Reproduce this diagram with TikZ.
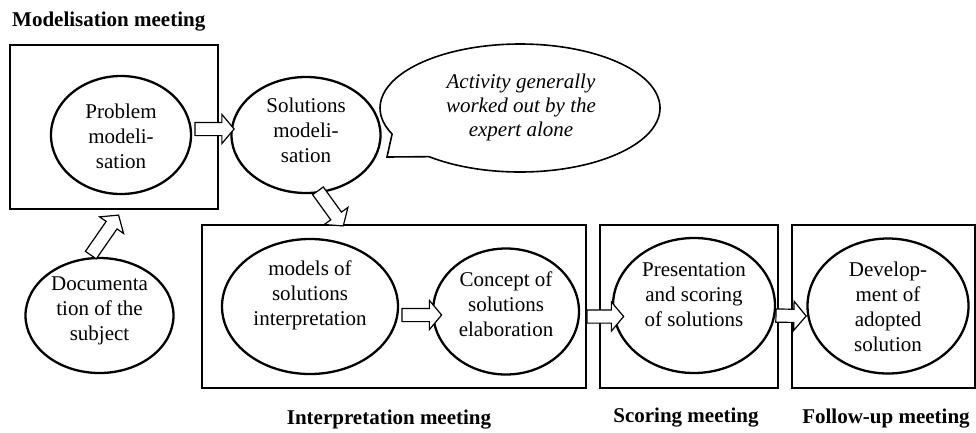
\documentclass[tikz,border=0pt]{standalone}
\usepackage{fontspec}
\setmainfont{Liberation Serif}
\usetikzlibrary{shapes.geometric,shapes.arrows,calc}
\newcommand{\blkarrow}[3]{%
  \path let \p1=#2, \p2=#3, \n1={atan2(\y2-\y1,\x2-\x1)}, \n2={veclen(\x2-\x1,\y2-\y1)} in
    node[blockarrow, minimum height=\n2, rotate=\n1] (#1) at ($(\p1)!.5!(\p2)$) {};}
\begin{document}
\begin{tikzpicture}[x=1pt,y=-1pt,
  meetbox/.style={draw, line width=2.7pt, rectangle, inner sep=0pt},
  bubbleshape/.style={draw, line width=1.6pt, fill=white},
  stage/.style={draw, ellipse, line width=2.3pt, inner sep=0pt},
  txt/.style={align=center, inner sep=0pt, font=\fontsize{21}{25}\selectfont},
  title/.style={inner sep=0pt, font=\fontsize{21}{25}\selectfont\bfseries},
  blockarrow/.style={single arrow, draw, fill=white, line width=1.2pt,
    inner xsep=0pt, inner ysep=6pt, text height=0pt, text depth=0pt,
    single arrow head extend=8pt, single arrow tip angle=100,
    single arrow head indent=0pt}]
\useasboundingbox (0,0) rectangle (976,432);

% meeting boxes
\node[meetbox, minimum width=208pt, minimum height=164pt] (box1) at (114,127) {};
\node[meetbox, minimum width=384pt, minimum height=163pt] (box2) at (394,306.5) {};
\node[meetbox, minimum width=178pt, minimum height=163pt] (box3) at (689,306.5) {};
\node[meetbox, minimum width=183pt, minimum height=163pt] (box4) at (883.5,306.5) {};

% titles
\node[title, anchor=west] (t1) at (12,22) {Modelisation meeting};
\node[title] (t2) at (389,420) {Interpretation meeting};
\node[title] (t3) at (686,418) {Scoring meeting};
\node[title] (t4) at (886,419) {Follow-up meeting};

% stages
\node[stage, minimum width=140pt, minimum height=118pt] (prob) at (121,135) {};
\node[stage, minimum width=149pt, minimum height=116pt] (sol) at (306,135) {};
\node[stage, minimum width=176pt, minimum height=135pt] (models) at (310,306.5) {};
\node[stage, minimum width=146pt, minimum height=126pt] (concept) at (506,311.5) {};
\node[stage, minimum width=162pt, minimum height=135pt] (pres) at (694,305.5) {};
\node[stage, minimum width=161pt, minimum height=135pt] (devel) at (888,306) {};
\node[stage, minimum width=148pt, minimum height=115pt] (doc) at (99.5,315.5) {};

\node[txt] (probt) at (121,136) {Problem\\modeli-\\sation};
\node[txt] (solt) at (306,130) {Solutions\\modeli-\\sation};
\node[txt] (modelst) at (310,295) {models of\\solutions\\interpretation};
\node[txt] (conceptt) at (506,304) {Concept of\\solutions\\elaboration};
\node[txt] (prest) at (694,295) {Presentation\\and scoring\\of solutions};
\node[txt] (develt) at (888,307) {Develop-\\ment of\\adopted\\solution};
\node[txt] (doct) at (99.5,311) {Documenta\\tion of the\\subject};

% speech bubble
\coordinate (bc) at (520,108);
\coordinate (tailtip) at (387,157);
\draw[bubbleshape] ($(bc)+(130.5:140 and 64)$) arc[start angle=130.5, end angle=-204, x radius=140, y radius=64] -- (tailtip) -- cycle;
\node[txt, font=\fontsize{21}{24}\selectfont\itshape] (bubt) at (521,107) {Activity generally\\worked out by the\\expert alone};

% block arrows
\coordinate (a1s) at ($(prob.east)+(0,-6)$);
\coordinate (a1e) at ($(sol.west)+(1,-6)$);
\blkarrow{ar1}{(a1s)}{(a1e)}
\coordinate (a2e) at ($(box1.south)+(3,7)$);
\blkarrow{ar2}{(doc.100)}{(a2e)}
\coordinate (a3s) at ($(sol.-80)+(0,-5)$);
\coordinate (a3e) at ($(box2.north west)+(141,0)$);
\blkarrow{ar3}{(a3s)}{(a3e)}
\coordinate (a4s) at ($(models.east)+(0,8.5)$);
\coordinate (a4e) at ($(concept.west)+(7,3.5)$);
\blkarrow{ar4}{(a4s)}{(a4e)}
\coordinate (a5s) at ($(concept.east)+(4,5)$);
\coordinate (a5e) at ($(pres.west)+(9,11)$);
\blkarrow{ar5}{(a5s)}{(a5e)}
\coordinate (a6s) at ($(pres.east)+(-3,10)$);
\coordinate (a6e) at ($(devel.west)+(-3,10)$);
\blkarrow{ar6}{(a6s)}{(a6e)}
\end{tikzpicture}
\end{document}
